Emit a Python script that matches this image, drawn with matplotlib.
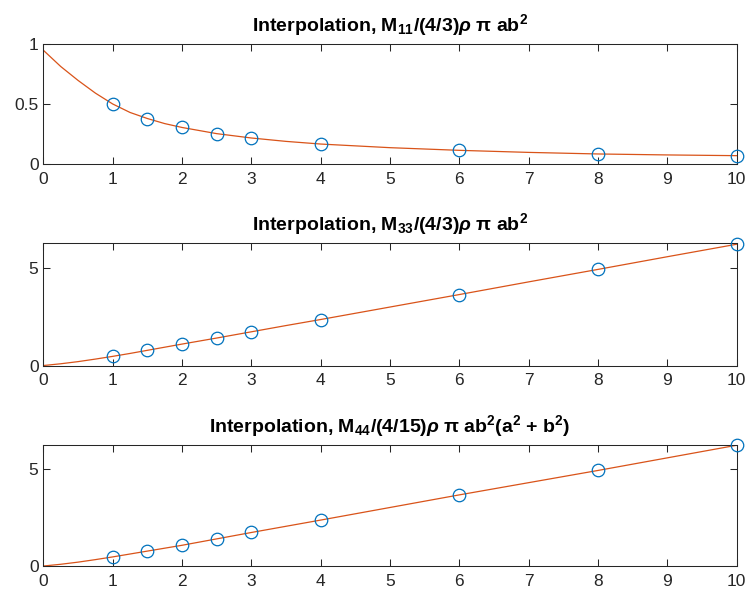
import matplotlib
matplotlib.use("Agg")
import matplotlib.pyplot as plt

# ===========================
# Data
# ===========================
ratio = [1, 1.5, 2, 2.5, 3, 4, 6, 8, 10]

m11_points = [0.50, 0.38, 0.306, 0.255, 0.219, 0.169, 0.117, 0.086, 0.072]
m33_points = [0.47, 0.78, 1.10, 1.41, 1.73, 2.36, 3.64, 4.93, 6.22]
m44_points = [0.47, 0.77, 1.07, 1.38, 1.75, 2.37, 3.67, 4.93, 6.23]

# interpolating curves
curve_x = [0, 0.25, 0.5, 0.75, 1, 1.25, 1.5, 1.75, 2, 2.5, 3, 3.5, 4, 5, 6, 7, 8, 9, 10]
m11_curve = [0.944, 0.81, 0.695, 0.59, 0.50, 0.43, 0.38, 0.338, 0.306, 0.255, 0.219,
             0.191, 0.169, 0.139, 0.117, 0.100, 0.087, 0.079, 0.073]
m33_curve = [0.0, 0.09, 0.2, 0.33, 0.47, 0.62, 0.78, 0.94, 1.10, 1.41, 1.73,
             2.05, 2.36, 3.00, 3.64, 4.29, 4.93, 5.58, 6.22]
m44_curve = [0.0, 0.09, 0.2, 0.33, 0.47, 0.62, 0.77, 0.92, 1.07, 1.40, 1.73,
             2.05, 2.37, 3.02, 3.67, 4.30, 4.93, 5.58, 6.23]

titles = [
    r"Interpolation, M$_{11}$/(4/3)$\mathit{\rho}$ π ab$^{2}$",
    r"Interpolation, M$_{33}$/(4/3)$\mathit{\rho}$ π ab$^{2}$",
    r"Interpolation, M$_{44}$/(4/15)$\mathit{\rho}$ π ab$^{2}$(a$^{2}$ + b$^{2}$)",
]
y_limits = [(0, 1), (0, 6.28), (0, 6.24)]
y_ticks = [[0, 0.5, 1], [0, 5], [0, 5]]
y_ticklabels = [["0", "0.5", "1"], ["0", "5"], ["0", "5"]]

# ===========================
# Style
# ===========================
BLUE = "#0072BD"
ORANGE = "#D95319"
AX_COLOR = "#262626"

plt.rcParams["font.family"] = ["Liberation Sans", "DejaVu Sans"]
plt.rcParams["mathtext.fontset"] = "custom"
plt.rcParams["mathtext.rm"] = "Liberation Sans:bold"
plt.rcParams["mathtext.it"] = "Liberation Sans:italic:bold"
plt.rcParams["mathtext.bf"] = "Liberation Sans:bold"
plt.rcParams["mathtext.default"] = "rm"

fig = plt.figure(figsize=(7.48, 5.96), dpi=100)

# axes rectangles [left, bottom, width, height] in figure fractions
positions = [
    [0.0580, 0.7240, 0.9270, 0.2030],
    [0.0580, 0.3867, 0.9270, 0.2055],
    [0.0580, 0.0503, 0.9270, 0.2030],
]

point_sets = [m11_points, m33_points, m44_points]
curve_sets = [m11_curve, m33_curve, m44_curve]

for i in range(3):
    ax = fig.add_axes(positions[i])
    ax.plot(curve_x, curve_sets[i], color=ORANGE, lw=0.9, zorder=2)
    ax.plot(ratio, point_sets[i], linestyle="none", marker="o", ms=9,
            mfc="none", mec=BLUE, mew=0.9, clip_on=False, zorder=3)

    ax.set_xlim(0, 10)
    ax.set_ylim(*y_limits[i])
    ax.set_xticks(range(0, 11))
    ax.set_yticks(y_ticks[i])
    ax.set_yticklabels(y_ticklabels[i])

    ax.tick_params(axis="both", direction="in", length=5, width=0.75,
                   colors=AX_COLOR, labelsize=12.5, top=True, right=True)
    ax.tick_params(axis="x", pad=5.5)
    ax.tick_params(axis="y", pad=3.5)
    for side in ax.spines.values():
        side.set_color(AX_COLOR)
        side.set_linewidth(0.75)

    ax.set_title(titles[i], fontsize=14, fontweight="bold", color="black", pad=9)

fig.savefig("out.png", dpi=100)
